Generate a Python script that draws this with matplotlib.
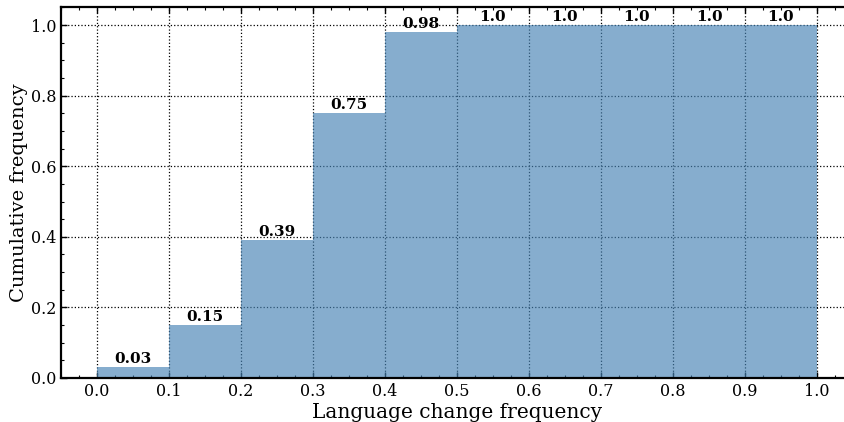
import matplotlib
matplotlib.use("Agg")
import matplotlib.pyplot as plt
from matplotlib.ticker import AutoMinorLocator

# Cumulative share of speakers per language-change-frequency bin
bin_edges = [0.0, 0.1, 0.2, 0.3, 0.4, 0.5, 0.6, 0.7, 0.8, 0.9, 1.0]
cumulative = [0.03, 0.15, 0.39, 0.75, 0.98, 1.0, 1.0, 1.0, 1.0, 1.0]
bar_labels = ["0.03", "0.15", "0.39", "0.75", "0.98", "1.0", "1.0", "1.0", "1.0", "1.0"]
x_ticks = [0.0, 0.1, 0.2, 0.3, 0.4, 0.5, 0.6, 0.7, 0.8, 0.9, 1.0]
y_ticks = [0.0, 0.2, 0.4, 0.6, 0.8, 1.0]

plt.rcParams["font.family"] = ["DejaVu Serif"]
plt.rcParams["mathtext.fontset"] = "dejavuserif"

fig = plt.figure(figsize=(8.44, 4.22), dpi=100)
ax = fig.add_axes([61 / 844, 1 - 378 / 422, 792 / 844, (378 - 7.35) / 422])

ax.set_axisbelow(True)
ax.grid(True, which="major", color="black", linestyle=":", linewidth=0.9)

lefts = bin_edges[:-1]
widths = [b - a for a, b in zip(bin_edges[:-1], bin_edges[1:])]
bars = ax.bar(lefts, cumulative, width=widths, align="edge",
              color="steelblue", alpha=0.65, linewidth=0)

for rect, text in zip(bars, bar_labels):
    ax.text(rect.get_x() + rect.get_width() / 2, rect.get_height() + 0.004, text,
            ha="center", va="bottom", fontsize=11, fontweight="bold")

ax.set_xlim(-0.05, 1.05)
ax.set_ylim(0, 1.05)
ax.set_xticks(x_ticks)
ax.set_yticks(y_ticks)
ax.set_xticklabels([f"{v:.1f}" for v in x_ticks])
ax.set_yticklabels([f"{v:.1f}" for v in y_ticks])
ax.xaxis.set_minor_locator(AutoMinorLocator(4))
ax.yaxis.set_minor_locator(AutoMinorLocator(4))

ax.tick_params(which="both", direction="in", top=True, right=False, labelsize=11.5)
ax.tick_params(which="major", length=4, width=1.0)
ax.tick_params(which="minor", length=2, width=0.8)
for sp in ax.spines.values():
    sp.set_linewidth(1.6)
ax.spines["right"].set_visible(False)

ax.set_xlabel("Language change frequency", fontsize=14.5, labelpad=2)
ax.set_ylabel("Cumulative frequency", fontsize=14, labelpad=2)

fig.savefig("out.png", dpi=100)
